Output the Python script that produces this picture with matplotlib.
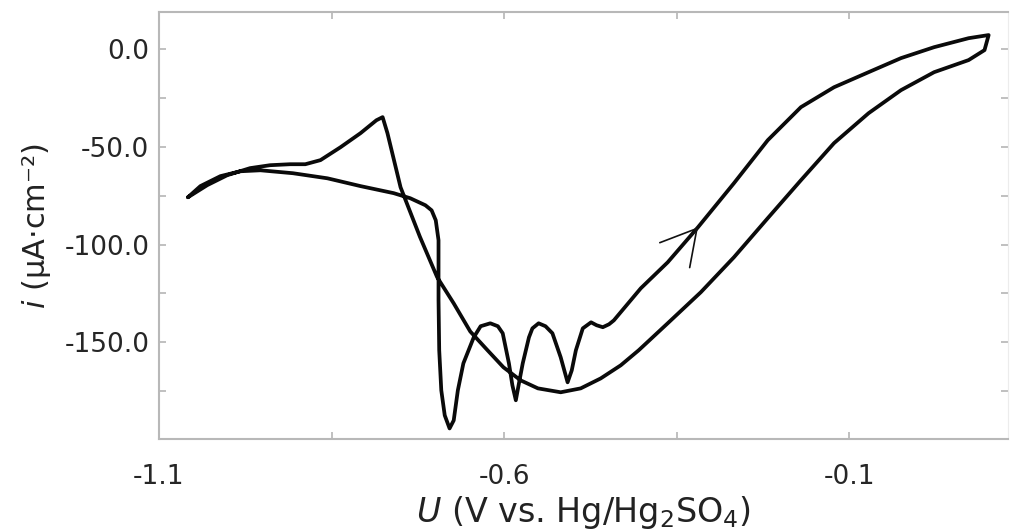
import matplotlib
matplotlib.use("Agg")
import matplotlib.pyplot as plt

# cathodic sweep: from the positive end back to the negative end
cath_u = [0.102, 0.096, 0.073, 0.023, -0.025, -0.072, -0.122, -0.170, -0.218,
          -0.267, -0.315, -0.363, -0.405, -0.431, -0.460, -0.489, -0.518,
          -0.551, -0.576, -0.601, -0.624, -0.649, -0.673, -0.697, -0.722,
          -0.750, -0.769, -0.776, -0.785, -0.808, -0.837, -0.866, -0.888,
          -0.910, -0.939, -0.968, -1.001, -1.030, -1.058]
cath_i = [7.2, -0.5, -5.6, -11.8, -21.0, -32.8, -48.1, -67.1, -86.5,
          -106.5, -124.4, -140.3, -154.1, -161.8, -168.5, -173.6, -175.6,
          -173.6, -169.5, -162.8, -154.1, -144.5, -130.1, -116.7, -96.0,
          -70.7, -43.0, -34.8, -36.4, -43.0, -50.2, -56.8, -58.9,
          -58.9, -59.4, -60.9, -64.5, -69.6, -75.8]

# anodic sweep: negative end up to the positive end
anod_u = [-1.058, -1.040, -1.011, -0.982, -0.953, -0.906, -0.856, -0.808,
          -0.760, -0.736, -0.714, -0.705, -0.699, -0.695, -0.695, -0.694,
          -0.691, -0.686, -0.679, -0.673, -0.667, -0.659, -0.644, -0.634,
          -0.620, -0.609, -0.602, -0.593, -0.588, -0.583, -0.579, -0.573,
          -0.564, -0.559, -0.550, -0.540, -0.530, -0.518, -0.512, -0.508,
          -0.502, -0.496, -0.486, -0.474, -0.466, -0.457, -0.448, -0.441,
          -0.402, -0.363, -0.319, -0.267, -0.218, -0.170, -0.122, -0.072,
          -0.025, 0.023, 0.073, 0.102]
anod_i = [-75.8, -70.1, -65.0, -62.5, -62.0, -63.5, -66.1, -70.1,
          -73.7, -76.3, -79.9, -82.5, -87.6, -97.8, -128.5, -154.1,
          -174.6, -187.4, -194.1, -190.0, -174.6, -160.8, -147.5, -141.8,
          -140.3, -141.8, -145.4, -160.8, -172.0, -179.7, -172.0, -160.8,
          -147.5, -142.9, -140.3, -141.8, -145.4, -157.7, -165.4, -170.5,
          -164.4, -154.1, -142.9, -139.8, -141.3, -142.3, -140.8, -138.8,
          -122.4, -109.1, -91.1, -68.6, -46.6, -29.7, -19.5, -11.8,
          -4.6, 1.0, 5.6, 7.2]

# scan direction arrow sits on the anodic branch
arrow_tip = (-0.319, -91.1)

x_major = [-1.1, -0.6, -0.1]
x_minor = [-0.85, -0.35]
y_major = [0.0, -50.0, -100.0, -150.0]
y_minor = [-25.0, -75.0, -125.0, -175.0]

plt.rcParams['font.family'] = ['DejaVu Sans']
plt.rcParams['axes.unicode_minus'] = False

fig = plt.figure(figsize=(10.1, 5.31), dpi=100)
ax = fig.add_axes([0.1574, 0.1733, 0.8406, 0.8041])

ax.plot(anod_u + cath_u, anod_i + cath_i, color="#0a0a0a", lw=2.7,
        solid_joinstyle="round", solid_capstyle="round")

ax.annotate("", xy=arrow_tip, xytext=(-5, -6), textcoords="offset points",
            arrowprops=dict(arrowstyle="->,head_length=2.5,head_width=1.4",
                            mutation_scale=10, lw=1.2, color="#111111",
                            shrinkA=0, shrinkB=0))

ax.set_xlim(-1.1, 0.13)
ax.set_ylim(-199.5, 19)

ax.set_xticks(x_major)
ax.set_xticks(x_minor, minor=True)
ax.set_xticklabels([f"{v:.1f}" for v in x_major])
ax.set_yticks(y_major)
ax.set_yticks(y_minor, minor=True)
ax.set_yticklabels([f"{v:.1f}" for v in y_major])

ax.tick_params(which="both", direction="in", top=True, right=True,
               color="#b5b5b5", width=1.2, labelcolor="#262626")
ax.tick_params(which="major", length=5, labelsize=19)
ax.tick_params(which="minor", length=5)
ax.tick_params(axis="x", pad=18)
ax.tick_params(axis="y", pad=7)

for side in ["left", "bottom", "top"]:
    ax.spines[side].set_color("#b8b8b8")
    ax.spines[side].set_linewidth(1.5)
ax.spines["right"].set_color("#ececec")

ax.set_xlabel(r"$\mathit{U}$ (V vs. Hg/Hg$_2$SO$_4$)", fontsize=24,
              color="#222222", labelpad=3)
ax.set_ylabel(r"$\mathit{i}$ (µA·cm⁻²)", fontsize=22, color="#222222",
              labelpad=8)

fig.savefig("out.png", dpi=100)
